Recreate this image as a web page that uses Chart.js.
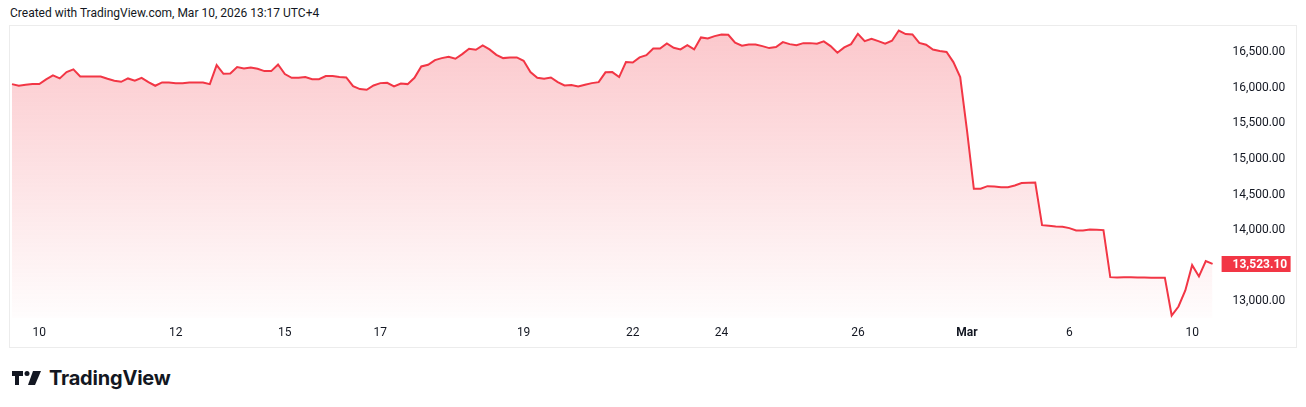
<!DOCTYPE html>
<html>
<head>
<meta charset="utf-8">
<title>Chart</title>
<script src="https://cdn.jsdelivr.net/npm/chart.js@4.4.1/dist/chart.umd.min.js"></script>
<style>
body { margin: 0; background: #fff; width: 1306px; height: 407px; overflow: hidden; font-family: Roboto, sans-serif; color: #131722; }
#caption { position: absolute; left: 10px; top: 6px; font-size: 12px; }
#frame { position: absolute; left: 9px; top: 25px; width: 1286px; height: 321px; border: 1px solid #ececec; }
#wrap { position: absolute; left: 10px; top: 26px; width: 1286px; height: 321px; }
#logo { position: absolute; left: 12px; top: 366px; display: flex; align-items: center; gap: 8px; font-family: Inter, sans-serif; font-weight: 700; font-size: 20px; letter-spacing: -0.2px; color: #131722; }
</style>
</head>
<body>

<div id="caption">Created with TradingView.com, Mar 10, 2026 13:17 UTC+4</div>
<div id="frame"></div>
<div id="wrap"><canvas id="priceChart"></canvas></div>
<div id="logo">
  <svg width="29" height="14" viewBox="0 0 29 14">
    <path d="M0 0h11v5H7v9H3V5H0z" fill="#131722"/>
    <circle cx="15" cy="2.5" r="2.5" fill="#131722"/>
    <path d="M21 0h8l-6 14h-7z" fill="#131722"/>
  </svg>
  <span>TradingView</span>
</div>

<script>

// ===== Data =====

const prices = [
16054,16031,16045,16054,16054,16120,16176,16134,16223,16261,
16162,16162,16162,16162,16129,16101,16087,16134,16101,16143,
16082,16031,16078,16078,16068,16068,16078,16078,16078,16054,
16322,16200,16204,16293,16275,16289,16270,16237,16237,16331,
16195,16143,16143,16155,16124,16124,16167,16167,16153,16148,
16026,15984,15974,16035,16068,16073,16021,16063,16054,16143,
16303,16326,16392,16420,16439,16411,16476,16552,16537,16598,
16542,16467,16420,16430,16430,16383,16223,16143,16129,16148,
16082,16035,16040,16021,16045,16068,16082,16220,16223,16153,
16364,16359,16430,16462,16556,16556,16627,16566,16542,16603,
16542,16711,16697,16730,16753,16749,16636,16594,16613,16613,
16589,16561,16575,16645,16617,16603,16631,16631,16622,16655,
16589,16495,16570,16617,16763,16659,16692,16659,16622,16664,
16808,16758,16753,16634,16608,16540,16519,16507,16364,16153,
15400,14581,14581,14618,14614,14604,14604,14628,14661,14665,
14670,14069,14060,14051,14046,14027,13994,13994,14008,14003,
13999,13337,13332,13335,13335,13332,13332,13330,13330,13330,
12797,12924,13149,13506,13347,13562,13523.10
];

const tickIndex = [4, 24, 40, 54, 75, 91, 104, 124, 140, 155, 173];
const tickLabels = ["10", "12", "15", "17", "19", "22", "24", "26", "Mar", "6", "10"];

const yTicks = [13000, 13500, 14000, 14500, 15000, 15500, 16000, 16500];

const lineColor = "#f23645";
const textColor = "#131722";


// ===== Labels =====

const labels = prices.map((p, i) => {
    const k = tickIndex.indexOf(i);
    return k >= 0 ? tickLabels[k] : "";
});

function money(v) {
    return v.toLocaleString("en-US", { minimumFractionDigits: 2, maximumFractionDigits: 2 });
}


// ===== Last price tag =====

const lastPriceTag = {
    id: "lastPriceTag",
    afterDraw(chart) {
        const y = chart.scales.y;
        const last = prices[prices.length - 1];
        const py = Math.round(y.getPixelForValue(last));
        const ctx = chart.ctx;
        ctx.save();
        ctx.fillStyle = lineColor;
        ctx.fillRect(y.left + 9, py - 8, 69, 16);
        ctx.fillStyle = "#ffffff";
        ctx.font = "bold 12px Roboto";
        ctx.textBaseline = "middle";
        ctx.textAlign = "left";
        ctx.fillText(money(last), y.left + 20, py + 0.5);
        ctx.restore();
    }
};


// ===== Chart =====

const chart = document.getElementById("priceChart");

new Chart(chart, {
    type: "line",
    data: {
        labels: labels,
        datasets: [{
            data: prices,
            borderColor: lineColor,
            borderWidth: 2,
            pointRadius: 0,
            tension: 0,
            fill: "start",
            backgroundColor: (context) => {
                const area = context.chart.chartArea;
                if (!area) return "rgba(242,54,69,0.2)";
                const g = context.chart.ctx.createLinearGradient(0, area.top, 0, area.bottom);
                g.addColorStop(0, "rgba(242,54,69,0.28)");
                g.addColorStop(1, "rgba(242,54,69,0.01)");
                return g;
            }
        }]
    },
    options: {
        responsive: true,
        maintainAspectRatio: false,
        animation: false,
        layout: {
            padding: { left: 2, right: 0, top: 1, bottom: 0 }
        },
        plugins: {
            legend: { display: false },
            tooltip: { enabled: false }
        },
        scales: {
            x: {
                type: "category",
                grid: { display: false, drawTicks: false },
                border: { display: false },
                afterFit: (scale) => {
                    scale.height = 29;
                    scale.paddingLeft = 0;
                    scale.paddingRight = 0;
                },
                ticks: {
                    autoSkip: false,
                    maxRotation: 0,
                    padding: 8,
                    color: textColor,
                    font: (ctx) => ({
                        family: "Roboto",
                        size: 12,
                        weight: ctx.tick && ctx.tick.label === "Mar" ? "bold" : "normal"
                    })
                }
            },
            y: {
                position: "right",
                min: 12762,
                max: 16858,
                grid: { display: false, drawTicks: false },
                border: { display: false },
                afterFit: (scale) => {
                    scale.width = 83.4;
                    scale.paddingTop = 0;
                    scale.paddingBottom = 0;
                },
                afterBuildTicks: (scale) => {
                    scale.ticks = yTicks.map(v => ({ value: v }));
                },
                ticks: {
                    padding: 20,
                    crossAlign: "near",
                    color: textColor,
                    font: { family: "Roboto", size: 12 },
                    callback: (v) => money(v)
                }
            }
        }
    },
    plugins: [lastPriceTag]
});

</script>
</body>
</html>
